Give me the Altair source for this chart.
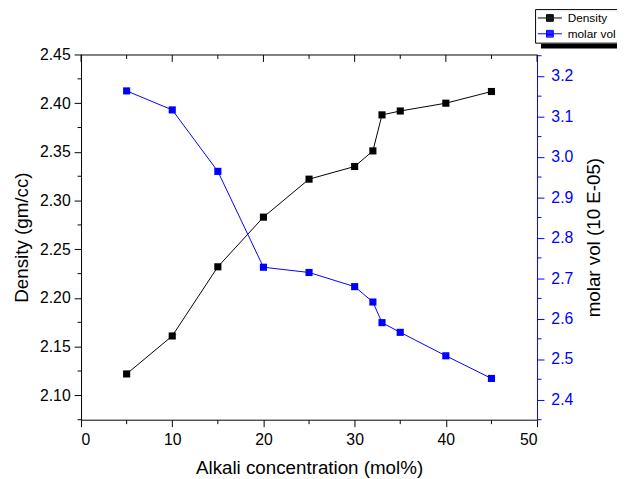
import altair as alt
import pandas as pd

# ---- data ----
conc = [5, 10, 15, 20, 25, 30, 32, 33, 35, 40, 45]
density = [2.122, 2.161, 2.232, 2.283, 2.322, 2.335, 2.351, 2.388, 2.392, 2.400, 2.412]
molar_vol = [3.163, 3.116, 2.964, 2.727, 2.714, 2.679, 2.641, 2.590, 2.566, 2.508, 2.452]
series = ["Density", "molar vol"]
series_colors = ["#000000", "#0000ff"]
x_major = [0, 10, 20, 30, 40, 50]
x_minor = [5, 15, 25, 35, 45]
left_major = [2.10, 2.15, 2.20, 2.25, 2.30, 2.35, 2.40, 2.45]
left_minor = [2.075, 2.125, 2.175, 2.225, 2.275, 2.325, 2.375, 2.425]
right_major = [2.4, 2.5, 2.6, 2.7, 2.8, 2.9, 3.0, 3.1, 3.2]
right_minor = [2.35, 2.45, 2.55, 2.65, 2.75, 2.85, 2.95, 3.05, 3.15, 3.25]
x_domain = [0, 50]
left_domain = [2.075, 2.45]
right_domain = [2.35, 3.253]

df_d = pd.DataFrame({"conc": conc, "value": density, "series": series[0]})
df_m = pd.DataFrame({"conc": conc, "value": molar_vol, "series": series[1]})
df_xmaj = pd.DataFrame({"conc": x_major})
df_xmin = pd.DataFrame({"conc": x_minor})
df_lmin = pd.DataFrame({"t": left_minor})
df_rmin = pd.DataFrame({"t": right_minor})
df_ltop = pd.DataFrame({"t": [left_domain[1]]})

W, H = 462, 370
FONT = "Liberation Sans"
BLUE = "#0000ff"
MAJ, MIN = 7, 4

xscale = alt.Scale(domain=x_domain, nice=False, zero=False)
lscale = alt.Scale(domain=left_domain, nice=False, zero=False)
rscale = alt.Scale(domain=right_domain, nice=False, zero=False)
cscale = alt.Scale(domain=series, range=series_colors)

SYMBOL = ("M-1,0H1M-0.28,-0.28H0.28V0.28H-0.28Z"
          "M-0.28,-0.2H0.28M-0.28,-0.13H0.28M-0.28,-0.06H0.28"
          "M-0.28,0.06H0.28M-0.28,0.13H0.28M-0.28,0.2H0.28")

LEG_X, LEG_Y = 460, -46
legend = alt.Legend(
    title=None, orient="none", legendX=LEG_X, legendY=LEG_Y,
    symbolType=SYMBOL, symbolSize=600, symbolStrokeWidth=1,
    clipHeight=14, rowPadding=2, padding=2,
    labelFont=FONT, labelFontSize=12, labelColor="black", labelOffset=5,
    strokeColor="black", fillColor="white", cornerRadius=0,
)

x_bottom = alt.Axis(
    orient="bottom", values=x_major, format="d", tickSize=MAJ,
    labelPadding=5, labelFont=FONT, labelFontSize=16, labelColor="black",
    domainColor="black", tickColor="black", grid=False,
    title="Alkali concentration (mol%)", titleFont=FONT, titleFontSize=19,
    titleFontWeight="normal", titleColor="black", titlePadding=12,
)
y_left = alt.Axis(
    orient="left", values=left_major, format=".2f", tickSize=MAJ,
    labelPadding=4, labelFont=FONT, labelFontSize=16, labelColor="black",
    domainColor="black", tickColor="black", grid=False,
    title="Density (gm/cc)", titleFont=FONT, titleFontSize=19,
    titleFontWeight="normal", titleColor="black", titlePadding=8,
)
y_right = alt.Axis(
    orient="right", values=right_major, format=".1f", tickSize=MAJ,
    labelPadding=7, labelFont=FONT, labelFontSize=16, labelColor=BLUE,
    domainColor=BLUE, tickColor=BLUE, grid=False,
    title="molar vol (10 E-05)", titleFont=FONT, titleFontSize=19,
    titleFontWeight="normal", titleColor="black", titlePadding=12,
    titleAngle=270, titleBaseline="top",
)


def X(field="conc"):
    return alt.X(f"{field}:Q", scale=xscale, axis=x_bottom)


d_line = alt.Chart(df_d).mark_line(strokeWidth=1).encode(
    x=X(),
    y=alt.Y("value:Q", scale=lscale, axis=y_left),
    color=alt.Color("series:N", scale=cscale, legend=legend),
)
d_pts = alt.Chart(df_d).mark_point(shape="square", filled=True, size=52, opacity=1).encode(
    x=X(),
    y=alt.Y("value:Q", scale=lscale, axis=None),
    color=alt.value("#000000"),
)
m_line = alt.Chart(df_m).mark_line(strokeWidth=1).encode(
    x=X(),
    y=alt.Y("value:Q", scale=rscale, axis=y_right),
    color=alt.Color("series:N", scale=cscale, legend=legend),
)
m_pts = alt.Chart(df_m).mark_point(shape="square", filled=True, size=52, opacity=1).encode(
    x=X(),
    y=alt.Y("value:Q", scale=rscale, axis=None),
    color=alt.value(BLUE),
)

# frame top edge and extra ticks (minor ticks, inward top ticks)
one = pd.DataFrame({"k": [0]})
top_edge = alt.Chart(df_ltop).mark_rule(color="black", strokeWidth=1, yOffset=0.5).encode(
    y=alt.Y("t:Q", scale=lscale, axis=None), x=alt.value(0), x2=alt.value(W + 0.5),
)
top_major = alt.Chart(df_xmaj).mark_rule(color="black", strokeWidth=1).encode(
    x=X(), y=alt.value(0.5), y2=alt.value(MAJ + 0.5),
)
top_minor = alt.Chart(df_xmin).mark_rule(color="black", strokeWidth=1).encode(
    x=X(), y=alt.value(0.5), y2=alt.value(MIN + 0.5),
)
bot_minor = alt.Chart(df_xmin).mark_rule(color="black", strokeWidth=1).encode(
    x=X(), y=alt.value(H + 0.5), y2=alt.value(H + MIN + 0.5),
)
left_minor_r = alt.Chart(df_lmin).mark_rule(color="black", strokeWidth=1).encode(
    y=alt.Y("t:Q", scale=lscale, axis=None), x=alt.value(0.5), x2=alt.value(0.5 - MIN),
)
right_minor_r = alt.Chart(df_rmin).mark_rule(color=BLUE, strokeWidth=1).encode(
    y=alt.Y("t:Q", scale=rscale, axis=None), x=alt.value(W + 0.5), x2=alt.value(W + 0.5 + MIN),
)

shadow = alt.Chart(one).mark_rect(color="black").encode(
    x=alt.value(LEG_X + 6), x2=alt.value(LEG_X + 120),
    y=alt.value(LEG_Y + 35), y2=alt.value(LEG_Y + 40),
)

chart = (
    alt.layer(shadow, d_line, d_pts, m_line, m_pts, top_edge, top_major, top_minor,
              bot_minor, left_minor_r, right_minor_r)
    .resolve_scale(y="independent")
    .properties(
        width=W, height=H,
        autosize=alt.AutoSizeParams(type="none"),
        padding={"left": 74, "top": 44, "right": 81, "bottom": 60},
        background="white",
    )
    .configure(font=FONT, view=alt.ViewConfig(strokeWidth=0, stroke=None))
)

chart.save("out.html", embed_options={"renderer": "svg", "actions": False})
